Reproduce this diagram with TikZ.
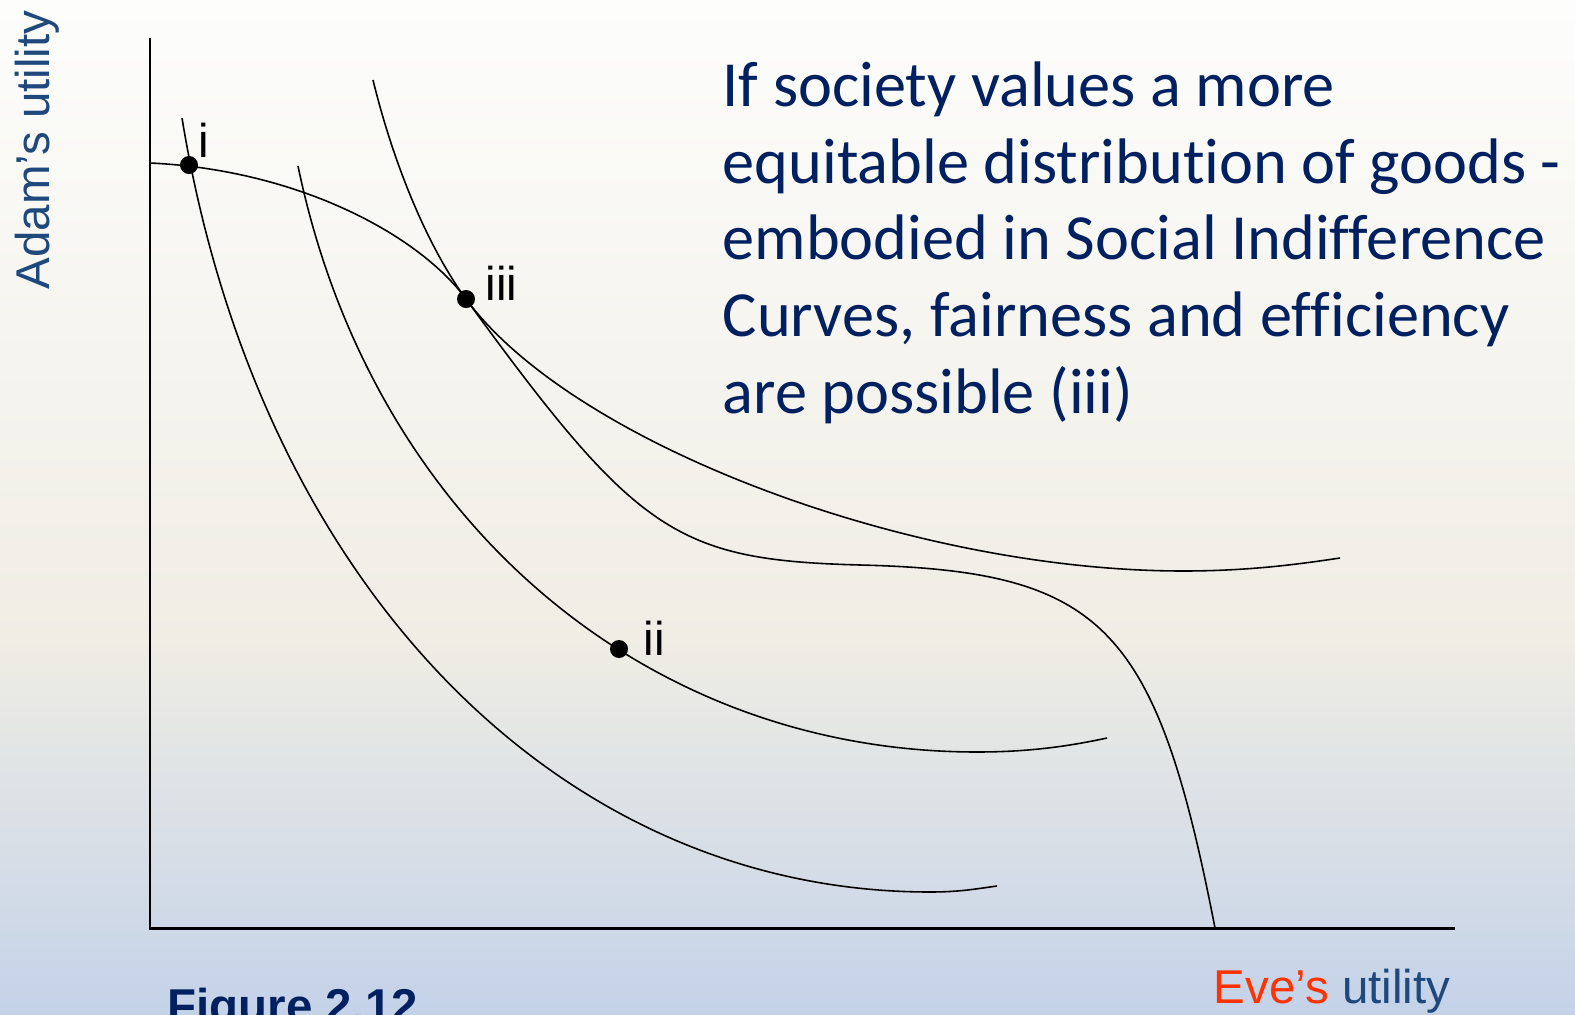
\documentclass[tikz,border=0pt]{standalone}
\usepackage{fontspec}
\setmainfont{Liberation Sans}
\newfontfamily\calibri[Ligatures=NoCommon]{Carlito}
\definecolor{navy}{RGB}{0,32,96}
\definecolor{axisblue}{RGB}{31,73,125}
\definecolor{evered}{RGB}{255,51,0}
\definecolor{bgtop}{RGB}{253,253,252}
\definecolor{bgmid}{RGB}{239,237,228}
\definecolor{bgbot}{RGB}{196,210,232}
\begin{document}
\begin{tikzpicture}[x=0.01cm, y=-0.01cm,
	axis/.style={line width=0.85pt},
	curve/.style={line width=0.45pt},
	dot/.style={circle, fill=black, inner sep=0pt, minimum size=0.18cm},
	ptlabel/.style={anchor=base west, inner sep=0pt, font=\fontsize{13.5}{16}\selectfont},
	axlabel/.style={anchor=base west, inner sep=0pt, font=\fontsize{13.5}{16}\selectfont}]

% background
\useasboundingbox (0,0) rectangle (1575,1015);
\shade[top color=bgtop, bottom color=bgmid] (0,0) rectangle (1575,640);
\shade[top color=bgmid, bottom color=bgbot] (0,640) rectangle (1575,1015);

% axes
\coordinate (O) at (150,928);
\coordinate (Ytop) at (150,38);
\coordinate (Xend) at (1455,928);
\draw[axis] (Ytop) -- (O) -- (Xend);

% points
\coordinate (i) at (189,165);
\coordinate (iii) at (466,299);
\coordinate (ii) at (619,649);

% social indifference curves
\draw[curve] (182,118) .. controls (258,582) and (557,892) .. (930,892)
	.. controls (960,892) and (975,889) .. (997,886);
\draw[curve] (298,166) .. controls (371,518) and (643,752) .. (977,752)
	.. controls (1030,752) and (1070,746) .. (1107,738);
\draw[curve] (373,80) .. controls (395,170) and (430,250) .. (iii)
	.. controls (572,443) and (909,571) .. (1183,571)
	.. controls (1250,571) and (1300,564) .. (1340,558);

% utility possibilities frontier
\draw[curve] (150,163) .. controls (300,170) and (420,236) .. (iii)
	.. controls (637,534) and (676,560) .. (860,565)
	.. controls (1103,571) and (1156,625) .. (1215,928);

\node[dot] (I) at (i) {};
\node[dot] (III) at (iii) {};
\node[dot] (II) at (ii) {};
\node[ptlabel] (Ilab) at (198,157) {i};
\node[ptlabel] (IIIlab) at (485,300) {iii};
\node[ptlabel] (IIlab) at (643,655) {ii};

% axis labels
\node[axlabel, rotate=90, text=axisblue] (Ylab) at (50,290) {Adam’s utility};
\node[axlabel] (Xlab) at (1213,1003) {\textcolor{evered}{Eve’s} \textcolor{axisblue}{utility}};
\node[axlabel, text=navy, font=\fontsize{13.5}{16}\selectfont\bfseries] (Fig) at (167,1022) {Figure 2.12};

% text
\node[anchor=base west, inner sep=0pt, align=left, text=navy, font=\calibri\fontsize{18.3}{21.8}\selectfont] (Note) at (722,413)
	{If society values a more\\equitable distribution of goods -\\embodied in Social Indifference\\Curves, fairness and efficiency\\are possible (iii)};
\end{tikzpicture}
\end{document}
